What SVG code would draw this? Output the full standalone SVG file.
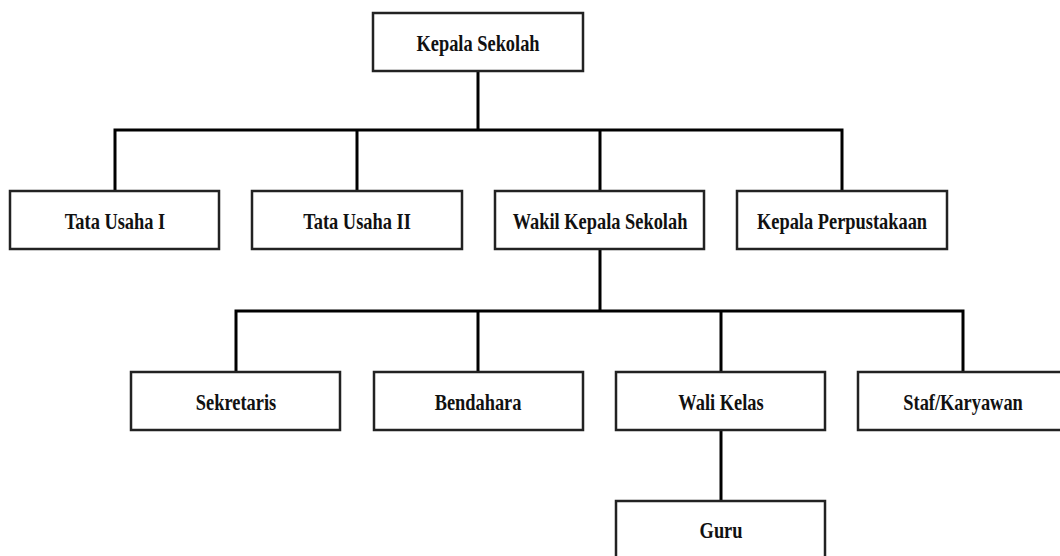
<svg xmlns="http://www.w3.org/2000/svg" width="1060" height="556" viewBox="0 0 1060 556">
<style>
.box{fill:#fff;stroke:#222;stroke-width:2.5}
.lbl{font-family:'Liberation Serif','Times New Roman','DejaVu Serif',serif;font-weight:bold;font-size:23px;fill:#111;text-anchor:middle;transform-box:fill-box;transform-origin:center;transform:scaleX(0.8)}
.con{fill:none;stroke:#000;stroke-width:3;stroke-linecap:butt}
</style>
<rect width="1060" height="556" fill="#fff"/>
<g id="connectors">
<path class="con" d="M478 71V130M113.5 130H843.5M115 130V191M357 130V191M600 130V191M842 130V191"/>
<path class="con" d="M600 249V311M234.5 311H964.5M236 311V372M478 311V372M721 311V372M963 311V372"/>
<path class="con" d="M721 430V501"/>
</g>
<g id="kepala-sekolah"><rect class="box" x="373" y="13" width="210" height="58"/><text class="lbl" x="478" y="51">Kepala Sekolah</text></g>
<g id="tata-usaha-1"><rect class="box" x="10" y="191" width="209" height="58"/><text class="lbl" x="115" y="229">Tata Usaha I</text></g>
<g id="tata-usaha-2"><rect class="box" x="252" y="191" width="210" height="58"/><text class="lbl" x="357" y="229">Tata Usaha II</text></g>
<g id="wakil"><rect class="box" x="495" y="191" width="209" height="58"/><text class="lbl" x="600" y="229">Wakil Kepala Sekolah</text></g>
<g id="perpustakaan"><rect class="box" x="737" y="191" width="210" height="58"/><text class="lbl" x="842" y="229">Kepala Perpustakaan</text></g>
<g id="sekretaris"><rect class="box" x="131" y="372" width="209" height="58"/><text class="lbl" x="236" y="410">Sekretaris</text></g>
<g id="bendahara"><rect class="box" x="374" y="372" width="209" height="58"/><text class="lbl" x="478" y="410">Bendahara</text></g>
<g id="wali-kelas"><rect class="box" x="616" y="372" width="209" height="58"/><text class="lbl" x="721" y="410">Wali Kelas</text></g>
<g id="staf"><rect class="box" x="858" y="372" width="209" height="58"/><text class="lbl" x="963" y="410">Staf/Karyawan</text></g>
<g id="guru"><rect class="box" x="616" y="501" width="209" height="70"/><text class="lbl" x="721" y="538">Guru</text></g>
</svg>
